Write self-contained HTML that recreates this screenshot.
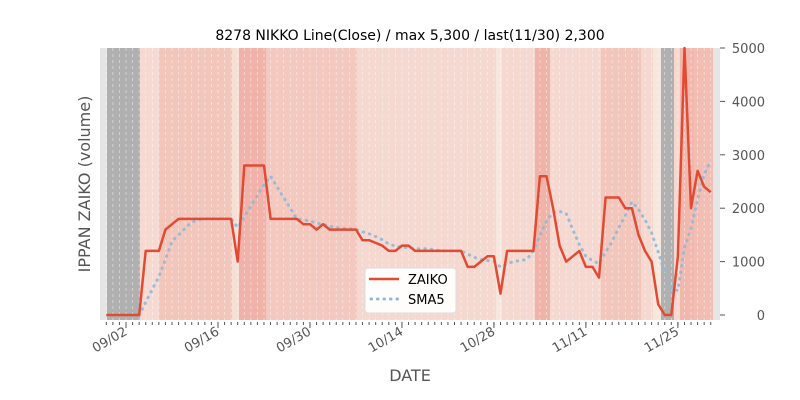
<!DOCTYPE html>
<html><head><meta charset="utf-8"><style>
html,body{margin:0;padding:0;background:#fff}
svg{display:block;font-family:"DejaVu Sans","Liberation Sans",sans-serif}
</style></head><body>
<svg id="s" width="800" height="400" viewBox="0 0 800 400" xmlns="http://www.w3.org/2000/svg">
<rect x="100" y="48" width="620" height="272" fill="#e5e5e5"/>
<g id="bands"></g>
<g id="grid"></g>
<polyline id="sma" fill="none" stroke="#8fb8d8" stroke-width="3" stroke-dasharray="0.5,6" stroke-linecap="round" opacity="0.9"/>
<polyline id="z" fill="none" stroke="#e24a33" stroke-width="2.5" stroke-linejoin="round"/>
<g id="ticks" stroke="#555" stroke-width="1"></g>
<text x="410" y="40" font-size="14" text-anchor="middle" fill="#000">8278 NIKKO Line(Close) / max 5,300 / last(11/30) 2,300</text>
<text transform="translate(90,184) rotate(-90)" font-size="16" text-anchor="middle" fill="#555">IPPAN ZAIKO (volume)</text>
<text x="410" y="381" font-size="16" text-anchor="middle" fill="#555">DATE</text>
<g id="ylab" font-size="13" fill="#555"></g>
<g id="xlab" font-size="13" fill="#555"></g>
<rect x="365" y="268" width="91" height="45" rx="3" fill="#fff" stroke="#ddd" opacity="0.95"/>
<line x1="369" y1="279" x2="399" y2="279" stroke="#e24a33" stroke-width="2.5"/>
<line x1="371" y1="299" x2="399" y2="299" stroke="#8fb8d8" stroke-width="3" stroke-dasharray="0.5,6" stroke-linecap="round"/>
<text x="408" y="284" font-size="13" fill="#000">ZAIKO</text>
<text x="408" y="304" font-size="13" fill="#000">SMA5</text>
</svg>
<script>
var NS="http://www.w3.org/2000/svg";
function el(p,t,a){var e=document.createElementNS(NS,t);for(var k in a)e.setAttribute(k,a[k]);p.appendChild(e);return e;}
var d=[0,0,0,0,0,0,1200,1200,1200,1600,1700,1800,1800,1800,1800,1800,1800,1800,1800,1800,1000,2800,2800,2800,2800,1800,1800,1800,1800,1800,1700,1700,1600,1700,1600,1600,1600,1600,1600,1400,1400,1350,1300,1200,1200,1300,1300,1200,1200,1200,1200,1200,1200,1200,1200,900,900,1000,1100,1100,400,1200,1200,1200,1200,1200,2600,2600,2000,1300,1000,1100,1200,900,900,700,2200,2200,2200,2000,2000,1500,1200,1000,200,0,0,1100,5000,2000,2700,2400,2300];
function X(i){return 106.3+6.57*i}function Y(v){return 315-v*0.0534}
var p=[],q=[];for(var i=0;i<d.length;i++){p.push(X(i).toFixed(1)+","+Y(d[i]).toFixed(1));if(i>=4){var s=0;for(var j=i-4;j<=i;j++)s+=d[j];q.push(X(i).toFixed(1)+","+Y(s/5).toFixed(1));}}
document.getElementById("z").setAttribute("points",p.join(" "));
document.getElementById("sma").setAttribute("points",q.join(" "));
var b=[[107,140,"#b0b0b0"],[140,159,"#f6d9d0"],[159,232,"#f3c6bc"],[232,239,"#f5e0d6"],[239,266,"#f1b3a9"],[266,357,"#f3c8bf"],[357,496,"#f5d8cf"],[496,502,"#f6e7dc"],[502,535,"#f5d8cf"],[535,550,"#f0b3a8"],[550,601,"#f5d8cf"],[601,641,"#f3c6bc"],[641,653,"#f5d8cf"],[653,661,"#f6e7dc"],[661,674,"#b0b0b0"],[674,680,"#f5d8cf"],[680,694,"#f2b8ae"],[694,713,"#f2bdb3"]];
var g=document.getElementById("bands");b.forEach(function(r){el(g,"rect",{x:r[0],y:48,width:r[1]-r[0],height:272,fill:r[2]})});
var gr=document.getElementById("grid"),tk=document.getElementById("ticks");
for(var i=0;i<d.length;i++){var x=X(i);el(gr,"line",{x1:x,y1:48,x2:x,y2:320,stroke:"#fff","stroke-width":0.7,"stroke-dasharray":"3,3",opacity:0.6});el(tk,"line",{x1:x,y1:322,x2:x,y2:325});}
var labs=["09/02","09/16","09/30","10/14","10/28","11/11","11/25"];
var xl=document.getElementById("xlab");
labs.forEach(function(t,k){var x=X(3+14*k);el(tk,"line",{x1:x,y1:322,x2:x,y2:328});var e=el(xl,"text",{transform:"translate("+(x+2)+",334) rotate(-30)","text-anchor":"end"});e.textContent=t;});
var yl=document.getElementById("ylab");
for(var v=0;v<=5000;v+=1000){var y=Y(v);el(tk,"line",{x1:720,y1:y,x2:725,y2:y});var e=el(yl,"text",{x:765,y:y+5,"text-anchor":"end"});e.textContent=v;}
</script>
</body></html>
